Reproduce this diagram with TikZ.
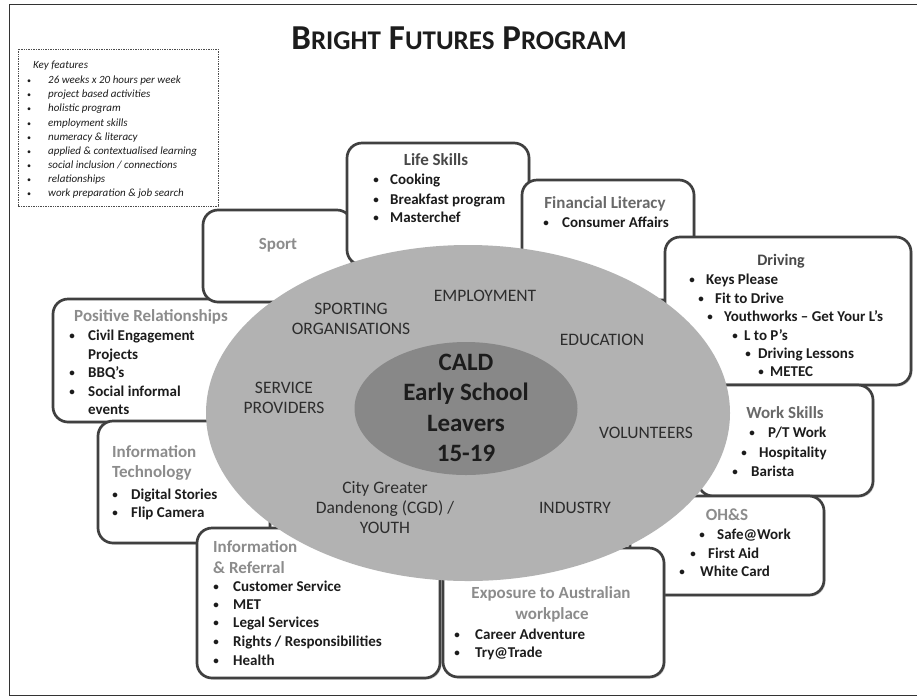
\documentclass[tikz,border=0pt]{standalone}
\usepackage{fontspec}
\setmainfont{Carlito}
\usetikzlibrary{positioning}
\usetikzlibrary{shadows}
\newcommand{\titlesc}[1]{{\fontsize{27}{30}\selectfont #1}}

\begin{document}
\begin{tikzpicture}[x=1pt,y=-1pt]
  \definecolor{textdark}{RGB}{28,28,28}
  \definecolor{ringtext}{RGB}{45,45,45}
  \definecolor{headdark}{RGB}{72,72,72}
  \definecolor{headmid}{RGB}{105,105,105}
  \definecolor{headlight}{RGB}{140,140,140}
  \definecolor{ringfill}{RGB}{178,178,178}
  \definecolor{corefill}{RGB}{136,136,136}
  \tikzset{
    panel/.style={draw=black!75,line width=2.7pt,fill=white,rounded corners=15pt,
      drop shadow={shadow xshift=1.5pt,shadow yshift=-1.5pt,opacity=0.35}},
    item/.style={anchor=base west,inner sep=0pt,text=textdark,font=\fontsize{15}{18}\selectfont\bfseries},
    dot/.style={anchor=base,inner sep=0pt,text=textdark,font=\fontsize{11}{13}\selectfont\bfseries},
    head/.style={anchor=base,inner sep=0pt,font=\fontsize{17}{20}\selectfont\bfseries},
    headleft/.style={head,anchor=base west},
    ring/.style={align=center,inner sep=0pt,text=ringtext,font=\fontsize{17.5}{20}\selectfont},
    keyitem/.style={anchor=base west,inner sep=0pt,text=textdark,font=\fontsize{11}{13}\selectfont\itshape},
  }
  \useasboundingbox (0,0) rectangle (917,697);
  \draw[black!80,line width=0.9pt] (9,4) rectangle (917,695);

  % title and key features
  \node[font=\fontsize{35}{40}\selectfont\bfseries,text=textdark] (title) at (459,38)
    {B\titlesc{RIGHT} F\titlesc{UTURES} P\titlesc{ROGRAM}};
  \draw[black!70,densely dotted,line width=0.7pt] (18,49) rectangle (218,206);
  \node[keyitem] (kf) at (33,68.5) {Key features};
  \foreach \ty/\txt [count=\i] in {80/26 weeks x 20 hours per week, 94/project based activities,
      108/holistic program, 123/employment skills, 137/numeracy \& literacy,
      151/applied  \& contextualised learning, 165/{social inclusion / connections},
      179/relationships, 193/work preparation \& job search} {
    \node[keyitem,font=\fontsize{8}{10}\selectfont,anchor=base] (kfb\i) at (29,\ty+3) {\textbullet};
    \node[keyitem] (kf\i) at (48,\ty+3.5) {\txt};
  }

  % panels
  \draw[panel] (53,299) rectangle (290,422);
  \draw[panel] (203,210) rectangle (352,302);
  \draw[panel] (347,143) rectangle (529,265);
  \draw[panel] (522,180) rectangle (694,300);
  \draw[panel] (665,237) rectangle (911,385);
  \draw[panel] (698,385) rectangle (873,496);
  \draw[panel] (630,496) rectangle (824,595);
  \draw[panel] (443,548) rectangle (664,677);
  \draw[panel] (98,421) rectangle (270,543);
  \draw[panel] (197,528) rectangle (440,678);

  % circles
  \fill[ringfill] (468,413) ellipse (262 and 168);
  \fill[corefill] (466,408.5) ellipse (111.5 and 66.5);
  \node[align=center,inner sep=0pt,text=textdark,font=\fontsize{25}{30.3}\selectfont\bfseries]
    (cald) at (466,408) {CALD\\Early School\\Leavers\\15-19};
  \node[ring] (employ) at (485,296) {EMPLOYMENT};
  \node[ring] (educ) at (602,340) {EDUCATION};
  \node[ring] (volun) at (646,433) {VOLUNTEERS};
  \node[ring] (indus) at (575,508) {INDUSTRY};
  \node[ring] (sporting) at (351,319) {SPORTING\\ORGANISATIONS};
  \node[ring] (service) at (284,398) {SERVICE\\PROVIDERS};
  \node[ring] (cgd) at (385,508) {City Greater\\Dandenong (CGD) /\\YOUTH};

  % panel texts
  \node[head,text=headlight] (sport) at (278,249.5) {Sport};

  \node[head,text=headdark] (life) at (436,165.5) {Life Skills};
  \foreach \ty/\txt [count=\i] in {180/Cooking, 200/Breakfast program, 218/Masterchef} {
    \node[dot] (lifeb\i) at (376,\ty+3.5) {\textbullet};
    \node[item] (life\i) at (390,\ty+4.5) {\txt};
  }

  \node[head,text=headmid] (fin) at (605,208.5) {Financial Literacy};
  \node[dot] (finb1) at (546,226.5) {\textbullet};
  \node[item] (fin1) at (562,227.5) {Consumer Affairs};

  \node[head,text=headdark,font=\fontsize{16}{20}\selectfont\bfseries] (drive) at (781,265.5) {Driving};
  \foreach \bx/\tx/\ty/\txt [count=\i] in {692/706/280/Keys Please, 701/715/299/Fit to Drive,
      710/724/317/Youthworks – Get Your L's, 735/744/336/L to P's,
      748/758/354/Driving Lessons, 761/770/372/METEC} {
    \node[dot] (driveb\i) at (\bx,\ty+3.5) {\textbullet};
    \node[item] (drive\i) at (\tx,\ty+4.5) {\txt};
  }

  \node[head,text=headmid] (work) at (785,418.5) {Work Skills};
  \foreach \bx/\tx/\ty/\txt [count=\i] in {752/768/433/{P/T Work}, 744/759/453/Hospitality,
      735/751/472/Barista} {
    \node[dot] (workb\i) at (\bx,\ty+3.5) {\textbullet};
    \node[item] (work\i) at (\tx,\ty+4.5) {\txt};
  }

  \node[head,text=headlight] (ohs) at (727,520.5) {OH\&S};
  \foreach \bx/\tx/\ty/\txt [count=\i] in {702/717/535/Safe@Work, 693/708/554/First Aid,
      682/700/572/White Card} {
    \node[dot] (ohsb\i) at (\bx,\ty+3.5) {\textbullet};
    \node[item] (ohs\i) at (\tx,\ty+4.5) {\txt};
  }

  \node[head,text=headlight] (expo) at (551,598.5) {Exposure to Australian};
  \node[head,text=headlight] (expo2) at (552,619.5) {workplace};
  \foreach \ty/\txt [count=\i] in {635/Career Adventure, 653/Try@Trade} {
    \node[dot] (expob\i) at (457,\ty+3.5) {\textbullet};
    \node[item] (expo\i) at (475,\ty+4.5) {\txt};
  }

  \node[headleft,text=headlight] (ref) at (213,552.5) {Information};
  \node[headleft,text=headlight] (ref2) at (213,573.5) {\& Referral};
  \foreach \ty/\txt [count=\i] in {587/Customer Service, 605/MET, 623/Legal Services,
      642/{Rights / Responsibilities}, 661/Health} {
    \node[dot] (refb\i) at (216,\ty+3.5) {\textbullet};
    \node[item] (ref\i) at (233,\ty+4.5) {\txt};
  }

  \node[headleft,text=headlight] (tech) at (112,457.5) {Information};
  \node[headleft,text=headlight] (tech2) at (112,477.5) {Technology};
  \foreach \ty/\txt [count=\i] in {495/Digital Stories, 513/Flip Camera} {
    \node[dot] (techb\i) at (115,\ty+3.5) {\textbullet};
    \node[item] (tech\i) at (131,\ty+4.5) {\txt};
  }

  \node[head,text=headlight] (rel) at (151,321.5) {Positive Relationships};
  \foreach \ty/\txt [count=\i] in {336/Civil Engagement, 373/BBQ's, 392/Social informal} {
    \node[dot] (relb\i) at (72,\ty+3.5) {\textbullet};
    \node[item] (rel\i) at (88,\ty+4.5) {\txt};
  }
  \node[item] (rel4) at (88,359.5) {Projects};
  \node[item] (rel5) at (88,414.5) {events};
\end{tikzpicture}
\end{document}
